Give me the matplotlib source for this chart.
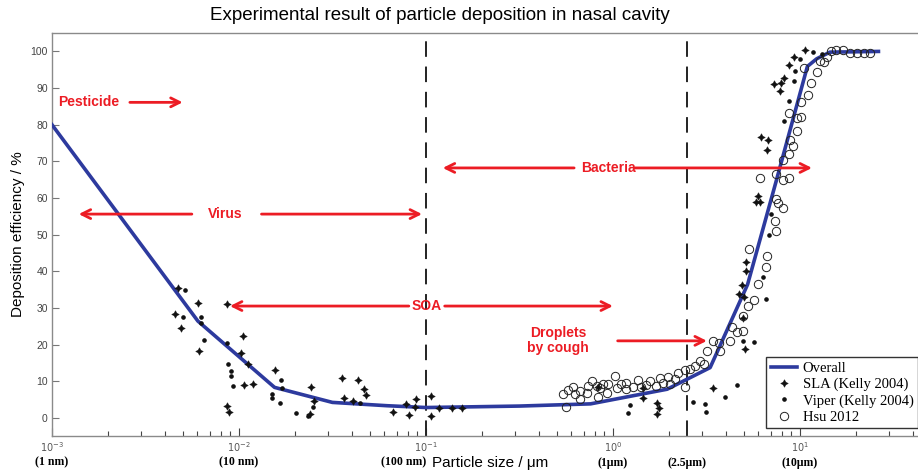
import matplotlib
matplotlib.use("Agg")
import matplotlib.pyplot as plt
from matplotlib.lines import Line2D

plt.rcParams['font.family'] = ['Liberation Sans', 'DejaVu Sans']

# overall fitted curve (particle size in um, deposition %)
overall_x = [0.001, 0.00603, 0.0155, 0.0316, 0.0617, 0.1, 0.316, 0.759, 1.95, 3.31,
             5.25, 7.41, 10.96, 12.3, 14.45, 26.3]
overall_y = [80, 26.4, 8.3, 4.2, 3.3, 2.8, 3.2, 3.8, 7.8, 13.7, 36.4, 64, 95.9, 98, 99.8, 100]

# SLA (Kelly 2004)
sla_x = [0.00473, 0.00605, 0.00859, 0.00455, 0.00488, 0.0061, 0.01047, 0.0102, 0.0112,
         0.01064, 0.0119, 0.00859, 0.00889, 0.0156, 0.0242, 0.0253, 0.024, 0.0357, 0.0431,
         0.0468, 0.0477, 0.0365, 0.0409, 0.0664, 0.0782, 0.0812, 0.0886, 0.087, 0.106,
         0.106, 0.118, 0.137, 0.155, 0.83, 1.45, 1.45, 1.73, 1.77, 1.71, 3.44, 5.09, 4.9,
         4.7, 5.0, 4.98, 5.15, 5.15, 5.98, 5.81, 6.11, 6.17, 6.77, 6.69, 7.8, 7.23, 7.95,
         8.25, 8.77, 9.29, 10.7]
sla_y = [35.5, 31.4, 31.0, 28.4, 24.6, 18.3, 22.3, 17.8, 14.6, 8.9, 9.3, 3.3, 1.7, 13.1,
         8.3, 4.6, 1.0, 10.8, 10.4, 7.8, 6.3, 5.4, 4.6, 1.7, 3.7, 0.8, 5.1, 3.0, 6.0, 0.4,
         2.6, 2.6, 2.6, 8.4, 8.1, 5.5, 3.9, 2.8, 1.0, 8.1, 18.7, 36.2, 33.7, 33.0, 27.3,
         42.6, 40.1, 60.5, 58.9, 58.9, 76.6, 75.9, 73.2, 89.3, 91.1, 91.4, 92.7, 96.3, 98.6,
         100.5]

# Viper (Kelly 2004)
viper_x = [0.00514, 0.00503, 0.0063, 0.0063, 0.0065, 0.00859, 0.00877, 0.00906, 0.00912,
           0.00933, 0.0168, 0.0169, 0.0151, 0.015, 0.0166, 0.0201, 0.0248, 0.0235, 0.0444,
           1.23, 1.21, 2.69, 3.09, 3.15, 3.98, 4.59, 4.94, 5.68, 6.36, 6.58, 6.85, 6.97,
           8.25, 8.7, 9.29, 9.4, 10.0, 11.8, 13.1]
viper_y = [34.9, 27.6, 27.6, 25.8, 21.2, 20.5, 14.6, 12.8, 11.4, 8.7, 10.3, 8.1, 6.6, 5.5,
           4.0, 1.3, 3.0, 0.4, 3.9, 3.5, 1.2, 4.4, 3.7, 1.7, 5.7, 9.0, 21.0, 20.8, 38.4, 32.3,
           49.9, 55.5, 81.1, 86.6, 92.0, 94.6, 98.0, 99.8, 99.3]

# Hsu 2012
hsu_x = [0.542, 0.577, 0.56, 0.614, 0.625, 0.667, 0.667, 0.738, 0.73, 0.77, 0.82, 0.83,
         0.851, 0.886, 0.925, 0.945, 1.026, 1.05, 1.11, 1.17, 1.18, 1.28, 1.36, 1.42, 1.51,
         1.58, 1.69, 1.78, 1.86, 1.98, 2.02, 2.14, 2.22, 2.43, 2.43, 2.58, 2.75, 2.92, 3.07,
         3.17, 3.44, 3.71, 3.76, 4.23, 4.59, 4.98, 4.31, 4.98, 5.3, 5.68, 5.98, 6.58, 6.69,
         5.36, 7.45, 7.37, 8.07, 7.6, 7.45, 8.12, 8.77, 6.11, 7.45, 8.12, 8.77, 9.2, 8.86,
         9.6, 8.77, 9.6, 10.1, 10.1, 11.1, 11.4, 10.5, 12.3, 12.8, 13.5, 13.9, 14.6, 15.5,
         16.9, 18.5, 20.2, 21.9, 23.7]
hsu_y = [6.5, 7.5, 3.0, 8.3, 6.6, 7.4, 5.1, 8.7, 6.7, 10.1, 8.7, 5.7, 8.1, 9.3, 6.9, 9.2,
         11.4, 8.1, 9.2, 9.6, 7.8, 8.3, 10.3, 8.4, 9.0, 10.1, 8.7, 10.8, 9.6, 11.2, 9.2, 10.5,
         12.3, 13.0, 8.3, 13.3, 14.2, 15.5, 14.8, 18.1, 21.0, 20.5, 18.1, 21.0, 23.5, 23.7,
         24.8, 27.8, 30.5, 32.1, 36.4, 41.1, 44.1, 46.1, 51.1, 53.7, 57.3, 58.7, 59.8, 65.0,
         65.5, 65.5, 66.6, 70.5, 72.0, 74.1, 75.9, 78.2, 83.2, 81.7, 82.0, 86.2, 88.0, 91.4,
         95.5, 94.4, 97.5, 97.1, 98.6, 100, 100.5, 100.5, 99.5, 99.5, 99.5, 99.5]

size_ticks = [0.001, 0.01, 0.1, 1, 10]
power_labels = [r'$10^{-3}$', r'$10^{-2}$', r'$10^{-1}$', r'$10^{0}$', r'$10^{1}$']
size_marks = [0.001, 0.01, 0.1, 1, 2.5, 10]
size_names = ['(1 nm)', '(10 nm)', '(100 nm)', '(1\u03bcm)', '(2.5\u03bcm)', '(10\u03bcm)']

blue = '#2d3a9e'
red = '#ec1c24'

fig = plt.figure(figsize=(9.18, 4.73), dpi=100)
ax = fig.add_axes([0.0566, 0.078, 0.9434, 0.852])

star = dict(ls='none', marker=(4, 1, 0), ms=5.5, color='#111111', mew=0.3)
dot = dict(ls='none', marker='o', ms=2.3, color='#111111')
ring = dict(ls='none', marker='o', ms=6, mfc='none', mec='#222222', mew=0.7)

ax.plot(overall_x, overall_y, color=blue, lw=2.6, zorder=3, solid_joinstyle='round')
ax.plot(sla_x, sla_y, zorder=4, **star)
ax.plot(viper_x, viper_y, zorder=4, **dot)
ax.plot(hsu_x, hsu_y, zorder=4, **ring)

ax.axvline(0.1, color='#222222', lw=1.4, dashes=(8, 5), zorder=2)
ax.axvline(2.5, color='#222222', lw=1.4, dashes=(8, 5), zorder=2)

ax.set_xscale('log')
ax.set_xlim(0.001, 42.8)
ax.set_ylim(-5, 105)
ax.set_yticks(range(0, 101, 10))
ax.tick_params(axis='y', direction='in', length=5, width=0.8, colors='#777777',
               labelcolor='#444444', labelsize=7.5, pad=3)
ax.tick_params(axis='x', which='major', direction='in', length=6, width=0.8, colors='#444444',
               labelbottom=False)
ax.tick_params(axis='x', which='minor', direction='in', length=3.5, width=0.8, colors='#444444')
ax.set_xticks(size_ticks)

for sp in ['left', 'bottom', 'top']:
    ax.spines[sp].set_color('#8a8a8a')
    ax.spines[sp].set_linewidth(1.0)
ax.spines['right'].set_visible(False)

trans = ax.get_xaxis_transform()
for x, lab in zip(size_ticks, power_labels):
    ax.text(x, -0.028, lab, transform=trans, ha='center', va='center', fontsize=7,
            color='#555555')
for x, lab in zip(size_marks, size_names):
    ax.text(x, -0.066, lab, transform=trans, ha='right' if x == 0.1 else 'center',
            va='center', fontsize=8.5, fontweight='bold', family='Liberation Serif')

ax.text(0.108, -0.066, 'Particle size / \u03bcm', transform=trans, ha='left', va='center',
        fontsize=11)
ax.set_ylabel('Deposition efficiency / %', fontsize=11, labelpad=4)
fig.text(0.479, 0.968, 'Experimental result of particle deposition in nasal cavity',
         ha='center', va='center', fontsize=13.5)


def arrow(tail, head):
    ax.annotate('', xy=head, xytext=tail,
                arrowprops=dict(arrowstyle='->', color=red, lw=2.0, mutation_scale=16,
                                shrinkA=0, shrinkB=0), zorder=5)


tk = dict(color=red, fontweight='bold', fontsize=10, ha='center', va='center', zorder=6)
ax.text(0.00158, 86.1, 'Pesticide', **tk)
arrow((0.00261, 86.1), (0.0050, 86.1))

ax.text(0.0084, 55.6, 'Virus', **tk)
arrow((0.0056, 55.6), (0.00139, 55.6))
arrow((0.0132, 55.6), (0.0953, 55.6))

ax.text(0.101, 30.5, 'SOA', **tk)
arrow((0.081, 30.5), (0.00895, 30.5))
arrow((0.126, 30.5), (1.0, 30.5))

ax.text(0.95, 68.2, 'Bacteria', **tk)
arrow((0.62, 68.2), (0.123, 68.2))
arrow((1.31, 68.2), (11.6, 68.2))

ax.text(0.51, 21, 'Droplets\nby cough', linespacing=1.1, **tk)
arrow((1.06, 21), (3.18, 21))

handles = [Line2D([], [], color=blue, lw=2.6),
           Line2D([], [], **star),
           Line2D([], [], **dot),
           Line2D([], [], **ring)]
labels = ['Overall', 'SLA (Kelly 2004)', 'Viper (Kelly 2004)', 'Hsu 2012']
leg = ax.legend(handles, labels, loc='lower right', bbox_to_anchor=(1.0, 0.02),
                borderaxespad=0, fancybox=False, framealpha=1, edgecolor='#333333',
                handlelength=1.8, handletextpad=0.4, labelspacing=0.2, borderpad=0.3,
                prop={'family': 'Liberation Serif', 'size': 10.5})
leg.get_frame().set_linewidth(1.0)

fig.savefig('out.png', dpi=100)
